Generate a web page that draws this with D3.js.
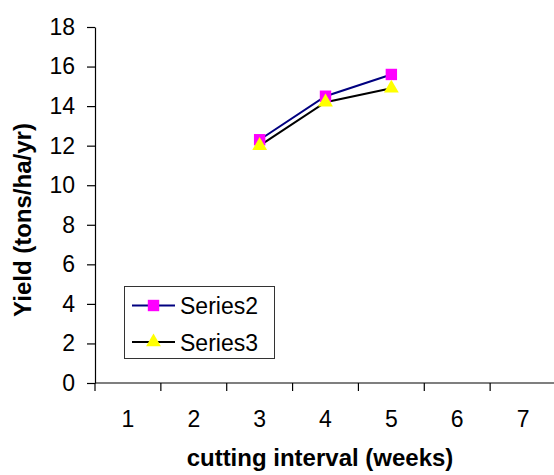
<!DOCTYPE html>
<html>
<head>
<meta charset="utf-8">
<script src="https://cdn.jsdelivr.net/npm/d3@7"></script>
<style>
  html, body { margin: 0; padding: 0; background: #fff; }
  svg { display: block; font-family: "Liberation Sans", Arial, sans-serif; }
</style>
</head>
<body>
<svg id="chart" width="554" height="475"></svg>
<script>
const categories = [1, 2, 3, 4, 5, 6, 7];
const series2 = [null, null, 12.3, 14.5, 15.6, null, null];
const series3 = [null, null, 12.0, 14.2, 14.9, null, null];
const yTicks = [0, 2, 4, 6, 8, 10, 12, 14, 16, 18];
const seriesNames = ["Series2", "Series3"];

const svg = d3.select("#chart");
const x = d3.scaleBand().domain(categories).range([95, 556]);
const y = d3.scaleLinear().domain([0, 18]).range([383, 27]);

// Y axis
const yAxis = svg.append("g").attr("transform", "translate(95,0)")
  .call(d3.axisLeft(y).tickValues(yTicks).tickSize(8).tickPadding(12).tickSizeOuter(0));
yAxis.select(".domain").attr("stroke", "#000").attr("stroke-width", 1.2);
yAxis.selectAll(".tick line").attr("stroke", "#000").attr("stroke-width", 1.2);
yAxis.selectAll(".tick text").attr("font-size", 23).attr("fill", "#000")
  .attr("font-family", "Liberation Sans, Arial, sans-serif");

// X axis line + ticks at band boundaries
const xg = svg.append("g");
xg.append("line").attr("x1", x.range()[0]).attr("x2", x.range()[1])
  .attr("y1", y(0)).attr("y2", y(0)).attr("stroke", "#000").attr("stroke-width", 1.2);
const bounds = categories.map(c => x(c)).concat([x.range()[1]]);
xg.selectAll("line.xt").data(bounds).enter().append("line").attr("class", "xt")
  .attr("x1", d => d).attr("x2", d => d)
  .attr("y1", y(0)).attr("y2", y(0) + 8)
  .attr("stroke", "#000").attr("stroke-width", 1.2);
xg.selectAll("text.xl").data(categories).enter().append("text").attr("class", "xl")
  .attr("x", d => x(d) + x.bandwidth() / 2)
  .attr("y", 427)
  .attr("text-anchor", "middle")
  .attr("font-size", 23)
  .text(d => d);

// Axis titles
svg.append("text")
  .attr("x", 320).attr("y", 466)
  .attr("text-anchor", "middle")
  .attr("font-size", 24).attr("font-weight", "bold")
  .text("cutting interval (weeks)");
svg.append("text")
  .attr("transform", "translate(31,220) rotate(-90)")
  .attr("text-anchor", "middle")
  .attr("font-size", 24).attr("font-weight", "bold")
  .text("Yield (tons/ha/yr)");

// Lines
const line = d3.line()
  .defined(d => d.v !== null)
  .x(d => x(d.c) + x.bandwidth() / 2)
  .y(d => y(d.v));

const s2 = categories.map((c, i) => ({ c, v: series2[i] }));
const s3 = categories.map((c, i) => ({ c, v: series3[i] }));

svg.append("path").datum(s3).attr("d", line)
  .attr("fill", "none").attr("stroke", "#000").attr("stroke-width", 2);
svg.append("path").datum(s2).attr("d", line)
  .attr("fill", "none").attr("stroke", "#000080").attr("stroke-width", 2);

const sq = d3.symbol().type(d3.symbolSquare).size(130);
const tri = d3.symbol().type(d3.symbolTriangle).size(95);

svg.selectAll("path.m2").data(s2.filter(d => d.v !== null)).enter().append("path")
  .attr("class", "m2").attr("d", sq)
  .attr("transform", d => `translate(${x(d.c) + x.bandwidth() / 2},${y(d.v)})`)
  .attr("fill", "#ff00ff");
svg.selectAll("path.m3").data(s3.filter(d => d.v !== null)).enter().append("path")
  .attr("class", "m3").attr("d", tri)
  .attr("transform", d => `translate(${x(d.c) + x.bandwidth() / 2},${y(d.v)})`)
  .attr("fill", "#ffff00");

// Legend
const lg = svg.append("g");
lg.append("rect").attr("x", 124.5).attr("y", 286.5).attr("width", 150).attr("height", 72)
  .attr("fill", "#fff").attr("stroke", "#333").attr("stroke-width", 1);
const rows = [
  { name: seriesNames[0], color: "#000080", sym: sq, fill: "#ff00ff", yy: 305.5 },
  { name: seriesNames[1], color: "#000", sym: tri, fill: "#ffff00", yy: 342 }
];
rows.forEach(r => {
  lg.append("line").attr("x1", 132).attr("x2", 175).attr("y1", r.yy).attr("y2", r.yy)
    .attr("stroke", r.color).attr("stroke-width", 2);
  lg.append("path").attr("d", r.sym).attr("transform", `translate(153.5,${r.yy})`).attr("fill", r.fill);
  lg.append("text").attr("x", 180).attr("y", r.yy + 8.5).attr("font-size", 23).text(r.name);
});
</script>
</body>
</html>
